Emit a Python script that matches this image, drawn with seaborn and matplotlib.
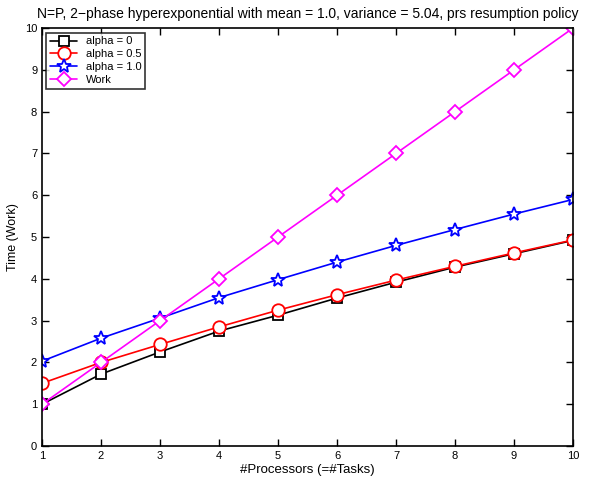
import numpy as np
import pandas as pd
import matplotlib
matplotlib.use("Agg")
import matplotlib.pyplot as plt
import seaborn as sns

processors = [1, 2, 3, 4, 5, 6, 7, 8, 9, 10]
alpha0 = [1.0, 1.72, 2.25, 2.75, 3.13, 3.54, 3.92, 4.28, 4.60, 4.92]
alpha05 = [1.50, 2.00, 2.43, 2.85, 3.25, 3.62, 3.97, 4.30, 4.62, 4.93]
alpha10 = [2.03, 2.58, 3.06, 3.55, 3.98, 4.40, 4.80, 5.18, 5.55, 5.90]
work = [1, 2, 3, 4, 5, 6, 7, 8, 9, 10]
labels = ["alpha = 0", "alpha = 0.5", "alpha = 1.0", "Work"]
title = "N=P, 2\u2212phase hyperexponential with mean = 1.0, variance = 5.04, prs resumption policy"

sns.set_theme(style="ticks")
plt.rcParams['font.family'] = ['Liberation Sans', 'DejaVu Sans']
plt.rcParams['text.color'] = 'black'
plt.rcParams['axes.labelcolor'] = 'black'

fig = plt.figure(figsize=(6.03, 4.82), dpi=100)
ax = fig.add_axes([0.0697, 0.0747, 0.8806, 0.867])

series = [(alpha0, "black", "s", 7), (alpha05, "red", "o", 9),
          (alpha10, "blue", "*", 10), (work, "magenta", "D", 7.5)]
for (vals, c, m, ms), lab in zip(series, labels):
    df = pd.DataFrame({"x": processors, "y": vals})
    sns.lineplot(data=df, x="x", y="y", ax=ax, color=c, marker=m, markersize=ms,
                 markerfacecolor="white", markeredgecolor=c, markeredgewidth=1.3,
                 linewidth=1.2, label=lab)

ax.set_xlim(1, 10)
ax.set_ylim(0, 10)
ax.set_xticks(processors)
ax.set_yticks(range(0, 11))
ax.tick_params(direction="in", top=True, right=True, labelsize=8, length=5, width=1, colors="black")
for s in ax.spines.values():
    s.set_linewidth(1.2)
    s.set_color("black")
ax.set_xlabel("#Processors (=#Tasks)", fontsize=9.5, labelpad=2)
ax.set_ylabel("Time (Work)", fontsize=9, labelpad=4)
ax.set_title(title, fontsize=10, pad=7)
leg = ax.legend(loc="upper left", fontsize=8, frameon=True, fancybox=False,
                edgecolor="black", handlelength=2.4, borderpad=0.35, labelspacing=0.25,
                borderaxespad=0.4)
leg.get_frame().set_linewidth(1.2)
fig.savefig("out.png", dpi=100)
